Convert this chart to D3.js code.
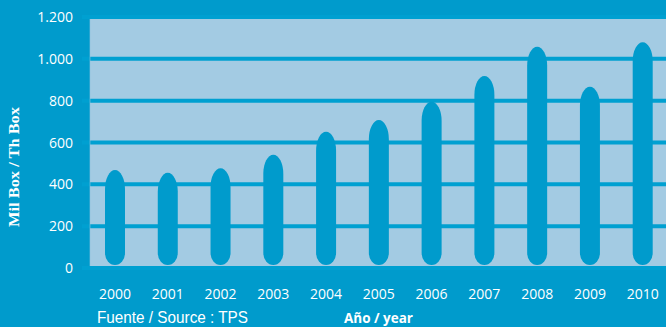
<!DOCTYPE html>
<html>
<head>
<meta charset="utf-8">
<script src="https://cdn.jsdelivr.net/npm/d3@7/dist/d3.min.js"></script>
<style>
  html, body { margin: 0; padding: 0; background: #009bcc; }
  svg { display: block; }
</style>
</head>
<body>
<svg id="chart" width="666" height="327"></svg>
<script>
// Annual volume, thousand boxes
const years = ["2000", "2001", "2002", "2003", "2004", "2005", "2006", "2007", "2008", "2009", "2010"];
const boxes = [468, 455, 477, 542, 652, 707, 795, 918, 1058, 867, 1079];
const yTicks = [0, 200, 400, 600, 800, 1000, 1200];
const yTickLabels = ["0", "200", "400", "600", "800", "1.000", "1.200"];

const svg = d3.select("#chart");
const W = 666, H = 327;
const bg = "#009bcc", plotFill = "#a3cbe3", barFill = "#009bcc", gridCol = "#00a0d1";

svg.append("rect").attr("width", W).attr("height", H).attr("fill", bg);

const y = d3.scaleLinear().domain([0, 1200]).range([268, 17]);
const x = d3.scalePoint().domain(years).range([115, 642.7]);
const barW = 20;

// plot panel
svg.append("rect")
  .attr("x", 90).attr("y", y(1200) + 1)
  .attr("width", W - 90).attr("height", y(0) - y(1200) - 3)
  .attr("fill", plotFill);

// horizontal grid bands, with short stubs to the left of the panel
svg.append("g").selectAll("line").data(yTicks).join("line")
  .attr("x1", 82).attr("x2", W)
  .attr("y1", d => y(d)).attr("y2", d => y(d))
  .attr("stroke", gridCol).attr("stroke-width", 4);

// faint panel left edge
svg.append("line")
  .attr("x1", 90).attr("x2", 90)
  .attr("y1", y(1200) + 2).attr("y2", y(0) - 2)
  .attr("stroke", "#8fc3e0").attr("stroke-width", 1).attr("opacity", 0.6);

// capsule bars: tall elliptical top, shorter rounded bottom
function capsule(cx, top, bottom) {
  const r = barW / 2, ryT = 19, ryB = 12;
  const l = cx - r, rr = cx + r;
  return `M${l},${top + ryT}` +
    `A${r},${ryT} 0 0 1 ${rr},${top + ryT}` +
    `L${rr},${bottom - ryB}` +
    `A${r},${ryB} 0 0 1 ${l},${bottom - ryB}Z`;
}
svg.append("g").selectAll("path").data(years).join("path")
  .attr("d", (d, i) => capsule(x(d), y(boxes[i]), y(0) - 3))
  .attr("fill", barFill);

// y tick labels
svg.append("g").selectAll("text").data(yTicks).join("text")
  .attr("x", 73).attr("y", d => y(d) + 5)
  .attr("text-anchor", "end")
  .attr("font-family", "'Open Sans', sans-serif").attr("font-size", 14)
  .attr("fill", "#ffffff")
  .text((d, i) => yTickLabels[i]);

// x tick labels
svg.append("g").selectAll("text").data(years).join("text")
  .attr("x", d => x(d)).attr("y", 298.5)
  .attr("text-anchor", "middle")
  .attr("font-family", "'Open Sans', sans-serif").attr("font-size", 14)
  .attr("fill", "#ffffff")
  .text(d => d);

// y axis title
svg.append("text")
  .attr("transform", "translate(19,167) rotate(-90)")
  .attr("text-anchor", "middle")
  .attr("font-family", "'Liberation Serif', 'DejaVu Serif', serif")
  .attr("font-weight", "bold").attr("font-size", 15)
  .attr("textLength", 120).attr("lengthAdjust", "spacingAndGlyphs")
  .attr("fill", "#ffffff")
  .text("Mil Box / Th Box");

// source note
svg.append("text")
  .attr("x", 97).attr("y", 323)
  .attr("font-family", "'Liberation Sans Narrow', 'Liberation Sans', Arial, sans-serif")
  .attr("font-size", 17)
  .attr("textLength", 151).attr("lengthAdjust", "spacingAndGlyphs")
  .attr("fill", "#ffffff")
  .text("Fuente / Source : TPS");

// x axis title
svg.append("text")
  .attr("x", 344).attr("y", 322.5)
  .attr("font-family", "'Open Sans', sans-serif")
  .attr("font-weight", "bold").attr("font-size", 13.5)
  .attr("textLength", 69).attr("lengthAdjust", "spacingAndGlyphs")
  .attr("fill", "#ffffff")
  .text("Año / year");
</script>
</body>
</html>
